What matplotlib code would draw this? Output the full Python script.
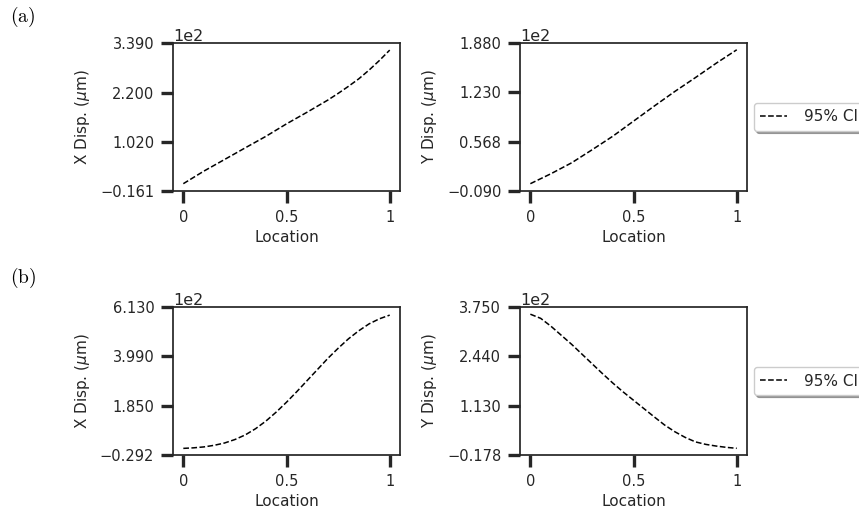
import matplotlib
matplotlib.use("Agg")
import matplotlib.pyplot as plt
import numpy as np
from matplotlib.ticker import FuncFormatter

plt.rcParams['mathtext.fontset'] = 'dejavusans'

# data (um)
loc_a = [0.0, 0.1, 0.2, 0.3, 0.4, 0.5, 0.6, 0.7, 0.75, 0.8, 0.85, 0.9, 0.95, 1.0]
x_disp_a = [1.4, 31.7, 59.5, 87.4, 115, 145, 173, 202, 218, 235, 253, 274, 297, 322]
loc_ya = [0.0, 0.1, 0.2, 0.3, 0.4, 0.5, 0.6, 0.7, 0.8, 0.9, 1.0]
y_disp_a = [0.7, 14, 28.5, 46, 64, 84, 104, 123.5, 142, 161, 179]
loc_b = [0.0, 0.05, 0.1, 0.15, 0.2, 0.25, 0.3, 0.35, 0.4, 0.45, 0.5,
         0.55, 0.6, 0.65, 0.7, 0.75, 0.8, 0.85, 0.9, 0.95, 1.0]
x_disp_b = [-0.4, 2, 6, 13, 23, 38, 58, 85, 118, 157, 200,
            246, 294, 342, 390, 434, 475, 510, 540, 562, 578]
y_disp_b = [356, 345, 324, 300, 276, 250, 224, 198, 173, 149.5, 127.5,
            105.5, 83.5, 62, 44, 29, 17, 10.4, 6, 2.5, 0]

# y tick values (x 1e2)
ticks_xa = [-0.161, 1.020, 2.200, 3.390]
ticks_ya = [-0.090, 0.568, 1.230, 1.880]
ticks_xb = [-0.292, 1.850, 3.990, 6.130]
ticks_yb = [-0.178, 1.130, 2.440, 3.750]

x_ticks = [0, 0.5, 1]
x_tick_labels = ['0', '0.5', '1']

fig = plt.figure(figsize=(8.59, 5.12), dpi=100)

panels = [
    ([0.2014, 0.627, 0.2643, 0.289], loc_a, x_disp_a, ticks_xa, 'X Disp. ($\\mu$m)'),
    ([0.6054, 0.627, 0.2643, 0.289], loc_ya, y_disp_a, ticks_ya, 'Y Disp. ($\\mu$m)'),
    ([0.2014, 0.1113, 0.2643, 0.289], loc_b, x_disp_b, ticks_xb, 'X Disp. ($\\mu$m)'),
    ([0.6054, 0.1113, 0.2643, 0.289], loc_b, y_disp_b, ticks_yb, 'Y Disp. ($\\mu$m)'),
]

dark = '#262626'
fmt = FuncFormatter(lambda v, p: ('%.3f' % (v / 100)).replace('-', '\u2212'))

axes = []
for rect, xs, vals, yt, ylab in panels:
    ax = fig.add_axes(rect)
    ax.plot(xs, vals, color='black', ls='--', lw=1.1, label='95% CI')
    yt = [t * 100 for t in yt]
    ax.set_ylim(yt[0], yt[-1])
    ax.set_yticks(yt)
    ax.yaxis.set_major_formatter(fmt)
    ax.set_xlim(-0.05, 1.05)
    ax.set_xticks(x_ticks)
    ax.set_xticklabels(x_tick_labels)
    ax.set_xlabel('Location', fontsize=11, color=dark, labelpad=4)
    ax.set_ylabel(ylab, fontsize=11, color=dark, labelpad=5.5)
    ax.tick_params(axis='both', length=8.5, width=2.4, color=dark,
                   labelsize=10.5, labelcolor=dark, pad=5)
    for s in ax.spines.values():
        s.set_linewidth(1.25)
        s.set_color(dark)
    ax.text(0.0, 0.995, '1e2', transform=ax.transAxes, fontsize=11.5,
            color=dark, ha='left', va='bottom')
    axes.append(ax)

for ax in (axes[1], axes[3]):
    ax.legend(loc='center left', bbox_to_anchor=(0.995, 0.5), shadow=True,
              fancybox=True, fontsize=11, handlelength=1.8,
              handletextpad=1.1, labelcolor=dark)

fig.text(0.012, 0.966, r'$\mathrm{(a)}$', fontsize=14, math_fontfamily='cm', va='center')
fig.text(0.012, 0.457, r'$\mathrm{(b)}$', fontsize=14, math_fontfamily='cm', va='center')

fig.savefig('out.png', dpi=100)
